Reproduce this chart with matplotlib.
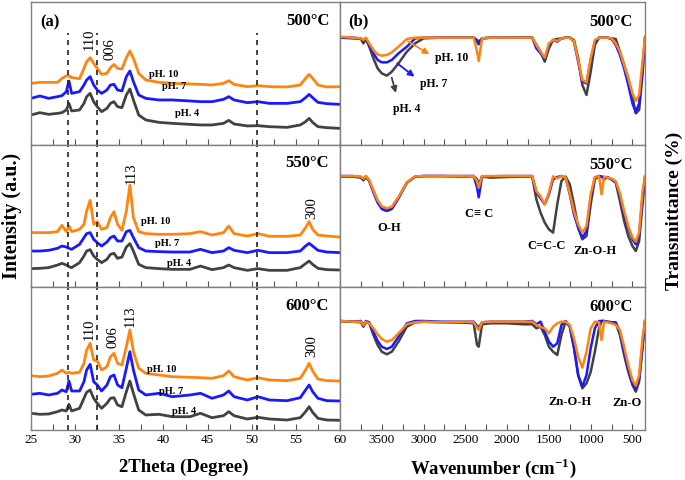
import numpy as np
import matplotlib
matplotlib.use('Agg')
import matplotlib.pyplot as plt
from matplotlib.ticker import MultipleLocator, FixedLocator

plt.rcParams['font.family'] = ['Liberation Serif', 'DejaVu Serif']
plt.rcParams['mathtext.fontset'] = 'custom'
plt.rcParams['mathtext.rm'] = 'Liberation Serif'
plt.rcParams['mathtext.bf'] = 'Liberation Serif:bold'

# ---- XRD data (2theta, intensity a.u.) ----
tt = [25, 26, 27, 28, 28.5, 29.0, 29.3, 29.6, 30.5, 31.0, 31.3, 31.7, 32.1, 32.5, 33.0,
      33.6, 34.0, 34.4, 34.8, 35.3, 35.8, 36.2, 36.6, 37.2, 38, 39.5, 41, 43, 44.2, 45.5,
      46.8, 47.4, 48, 49.5, 50.7, 52, 54, 55.5, 56.1, 56.5, 56.9, 57.5, 58.5, 60]

xrd500_ph10 = [61.3, 62.3, 62.3, 62.3, 66.3, 68.7, 69, 67, 66, 76.3, 83, 87, 81.3, 76.3, 70.3,
               71.3, 77, 80.3, 76.3, 75.7, 87, 93.7, 86.3, 71.3, 64.7, 62.3, 61.3, 60.7, 60.3, 59.7,
               61.3, 64, 60.3, 58, 59, 58, 57.7, 59.7, 66.3, 70.3, 66.3, 59.7, 57.7, 58]
xrd500_ph7 = [46.3, 48.7, 46.3, 48, 49, 53, 63.7, 51.3, 53, 59.7, 64.7, 68, 59.7, 54.7, 51.3,
              54.7, 59.7, 60.3, 54.7, 53.7, 68, 73.7, 63, 49.7, 46.3, 44.7, 44.7, 43.7, 43, 43,
              45.3, 48, 44.7, 42, 43, 41.3, 41.3, 43, 47, 50.3, 47, 42.3, 41, 40.3]
xrd500_ph4 = [29.7, 32, 30.3, 31.3, 32, 34.7, 41.3, 33.7, 34.7, 41.3, 48, 51.3, 43, 38, 33,
              36.3, 41.3, 43, 38, 37, 49.7, 55.7, 44.7, 29.7, 24.7, 22.3, 21.3, 20.3, 19.7, 19.7,
              21.3, 24.3, 20.7, 18.7, 19, 18, 17.3, 19.7, 23, 26.3, 22.3, 18, 17, 16.3]

xrd550_ph10 = [54.7, 54.7, 54.7, 55.7, 62, 55.7, 61.3, 55.7, 58, 63, 76.3, 87, 63, 65.7, 58,
               59.7, 69.7, 75.7, 63, 57, 76.3, 102.3, 69.7, 55.7, 53.7, 53, 53, 53.7, 55.7, 52.3,
               54.7, 61.3, 53.7, 51.3, 53.7, 51, 51, 52.3, 59.7, 65.7, 58, 52.3, 51.3, 50.3]
xrd550_ph7 = [36.3, 36.3, 37, 39, 41.3, 40.3, 39, 38, 43, 49.7, 53.7, 54.7, 48, 44.7, 41.3,
              45.3, 49.7, 51.3, 46.3, 46.3, 55.7, 57, 49.7, 39.7, 36.3, 35.7, 35.3, 35.3, 38, 34.7,
              36.3, 39.7, 37, 34.7, 37, 34.7, 34.7, 36.3, 41.3, 44, 41.3, 37, 35.3, 34.7]
xrd550_ph4 = [18.7, 19, 19.7, 22.3, 24, 22.3, 20.7, 19.7, 24.7, 31.3, 36.3, 37.7, 31.3, 28, 24.7,
              28, 33, 34, 29, 30.3, 40.3, 43.7, 36.3, 23, 19.7, 18.7, 18, 18, 21.3, 17.7,
              19.7, 22.3, 19.7, 17, 18.7, 17, 17, 19.7, 23.7, 26.3, 23, 19, 17.7, 17.3]

xrd600_ph10 = [54.3, 53.3, 54, 56.7, 60, 56.7, 57.7, 56.7, 57.7, 66.7, 80, 86.7, 70, 69, 60,
               63.3, 73.3, 76.7, 66.7, 65, 83.3, 100, 78.3, 61.7, 56.7, 55, 53.3, 52.7, 52.3, 51.7,
               54.3, 59, 53.3, 50, 52.3, 50, 49.3, 51.7, 60, 66.7, 59, 51, 49.3, 49]
xrd600_ph7 = [35.7, 36.7, 35, 36.7, 40, 38.3, 49, 39, 39, 48.3, 60, 65.7, 48.3, 45, 39,
              45, 53.3, 55, 45, 42.3, 61.7, 78.3, 60, 40, 35, 36.7, 33.3, 35, 36.7, 31.7,
              35, 39, 33.3, 30, 33.3, 30, 29.3, 32.3, 40, 45, 38.3, 31.7, 29.3, 29]
xrd600_ph4 = [16.7, 15.7, 16, 18.3, 20, 19, 25.7, 19, 21.7, 31.7, 37.7, 40, 31.7, 26.7, 21.7,
              26.7, 31.7, 32.3, 25, 23.3, 38.3, 49, 36.7, 20, 15, 15.7, 13.3, 13.3, 16.7, 12.3,
              14.3, 18.3, 14.3, 11, 12.7, 11, 10, 12.3, 18.3, 23.3, 17.7, 11.7, 10, 9.7]

# ---- FTIR data (wavenumber, transmittance) ----
wn = [4000, 3850, 3750, 3720, 3690, 3650, 3600, 3550, 3500, 3440, 3380, 3300, 3200, 3100, 3000,
      2800, 2500, 2400, 2360, 2340, 2300, 2200, 2000, 1800, 1700, 1650, 1600, 1550, 1500, 1450,
      1400, 1350, 1300, 1250, 1200, 1150, 1100, 1050, 1000, 950, 900, 870, 840, 800, 750,
      700, 650, 600, 550, 500, 460, 420, 380, 350]

ftir500_ph4 = [107, 106.3, 105.7, 101.3, 105.7, 98, 86.3, 76.3, 71.3, 69, 73, 81.3, 93, 101.3, 106.3,
               107, 107.3, 107, 104.7, 103, 106.3, 107, 107, 107.3, 107, 99.7, 93, 83, 96.3, 104.7,
               105.7, 106.3, 107, 107, 104.7, 86.3, 59.7, 49.7, 73, 99.7, 107, 107, 107, 107, 106.3,
               105.7, 93, 79.7, 66.3, 48, 31.3, 34.7, 69.7, 106.3]
ftir500_ph7 = [107, 107, 106.3, 103.7, 106.3, 99.7, 91.3, 84.7, 82.3, 82.3, 84.7, 91.3, 98, 106.3, 107,
               107, 107, 107, 103, 100.3, 106.3, 107, 107, 107, 107, 96.3, 91.3, 85.7, 99.7, 104.7,
               103, 106.3, 107, 107, 103, 83, 63, 61.3, 84.7, 103, 107, 107, 107, 107, 105.7,
               99.7, 89.7, 76.3, 59.7, 41.3, 32.3, 41.3, 76.3, 106.3]
ftir500_ph10 = [108, 107, 106.3, 104.7, 107, 101.3, 94.7, 90.3, 89, 89.7, 92.3, 98, 105.7, 107, 107,
                107, 107, 107, 93, 83.7, 106.3, 107, 107, 107, 107, 99.7, 93, 87, 101.3, 104.7,
                103.7, 106.3, 107, 107, 103.7, 84.7, 64.7, 62.3, 86.3, 104.7, 107, 107, 107, 107, 106.3,
                101.3, 93, 79.7, 66.3, 51.3, 43.7, 49.7, 83, 108]

ftir550_ph4 = [110.7, 110.7, 109.7, 107, 110.3, 106.3, 96.3, 86.3, 80.3, 78, 79.7, 89.7, 104.7, 110.7, 111.3,
               111.3, 110.7, 111.3, 108, 103, 110.7, 109.7, 110.3, 110.7, 110.7, 88, 74.7, 64.7, 58, 54.7,
               83, 106.3, 110.7, 103, 83, 59.7, 48, 51.3, 83, 108, 111.3, 110.7, 110.3, 109.7, 108,
               104.7, 86.3, 66.3, 51.3, 41.3, 36.3, 46.3, 83, 109.7]
ftir550_ph7 = [111.3, 111.3, 110.3, 108, 111, 106.3, 95, 84.7, 78.3, 76.3, 78.3, 89, 104.7, 110.7, 111.3,
               111.3, 111.3, 111.3, 100, 90, 110.7, 111, 111.3, 111.3, 111.3, 95, 89, 83, 93, 108,
               110.3, 111.3, 109.7, 93, 73, 59.7, 49.7, 56, 89.7, 109.7, 111.3, 110.7, 108, 110.3, 108,
               105, 92, 73, 59.7, 48, 43, 53, 90, 110]
ftir550_ph10 = [111.3, 111.3, 110.7, 108.7, 111.3, 107, 97, 87, 81, 79, 80.7, 90.3, 105, 111, 111.3,
                111.3, 111.3, 111.3, 106, 99.7, 111, 111.3, 111.3, 111.3, 111.3, 96.3, 91, 83, 95, 111,
                109, 111.3, 109.7, 94, 76, 63, 54.7, 61.3, 93, 110.3, 111, 93, 110.7, 109.7, 108.7,
                106, 94, 76.3, 61.3, 50, 45.7, 55, 96, 111]

ftir600_ph4 = [109, 108.3, 107.7, 103.3, 107.7, 106.7, 95, 85, 78.3, 75.7, 78.3, 88.3, 103.3, 107.7, 108.3,
               107.7, 107.3, 106.7, 85, 83.3, 105.7, 106.7, 106.7, 105.7, 105.7, 101.7, 103.3, 95, 83.3, 78.3,
               75, 95, 108.3, 103.3, 81.7, 55, 41.7, 46.7, 58, 78.3, 101.7, 109, 109, 108.3, 107.7,
               106.7, 95, 75, 58.3, 45, 38.3, 48.3, 81.7, 109]
ftir600_ph7 = [109, 108.3, 109, 105, 109, 107.7, 98.3, 89, 83.3, 81, 83.3, 93.3, 106.7, 109, 109,
               108.3, 108.3, 108.3, 104.3, 102.3, 107.7, 108.3, 108.3, 108.3, 109, 105.7, 108.3, 98.3, 88.3, 83.3,
               86.7, 105, 109, 103.3, 83.3, 55, 43.3, 55, 81.7, 101.7, 109, 109, 109, 108.3, 107.7,
               107.7, 98.3, 78.3, 60, 46.7, 41, 51.7, 85, 108.3]
ftir600_ph10 = [109, 108.3, 108.3, 105, 108.3, 106.7, 101.7, 95.7, 91, 88.3, 90, 96.7, 105.7, 107.7, 108.3,
                107.7, 108.3, 107.7, 102.3, 100, 107.7, 108.3, 108.3, 108.3, 108.3, 105, 103, 101.7, 96.7, 103.3,
                106.7, 108.3, 108.3, 105, 91.7, 73.3, 62.3, 78.3, 101.7, 108.3, 107.7, 90, 108.3, 107.7, 106.7,
                105, 100, 83.3, 65, 50, 44.3, 55, 91.7, 109]

temps = ['500°C', '550°C', '600°C']
xrd = [(xrd500_ph4, xrd500_ph7, xrd500_ph10),
       (xrd550_ph4, xrd550_ph7, xrd550_ph10),
       (xrd600_ph4, xrd600_ph7, xrd600_ph10)]
ftir = [(ftir500_ph4, ftir500_ph7, ftir500_ph10),
        (ftir550_ph4, ftir550_ph7, ftir550_ph10),
        (ftir600_ph4, ftir600_ph7, ftir600_ph10)]
ph_names = ['pH. 4', 'pH. 7', 'pH. 10']
colores = ['#424242', '#1a1aff', '#ff8510']

# label positions for the pH tags in XRD panels
ph_pos = [[(41.3, 31), (39.8, 58.5), (38.4, 70)],
          [(40.4, 23.5), (39.0, 44), (37.5, 66)],
          [(41.0, 19), (39.5, 39), (38.1, 60)]]
# Miller indices (x, y, text)
hkl = [[(31.65, 105, '110'), (34.0, 96, '006')],
       [(36.4, 114, '113'), (56.85, 79, '300')],
       [(31.65, 101, '110'), (34.3, 92.5, '006'), (36.25, 113.5, '113'), (56.8, 84, '300')]]
dashes_x = [29.23, 32.44, 50.56]

W, H = 685, 480
fig = plt.figure(figsize=(6.85, 4.8), dpi=100)
top, bot = 2, 430
rowh = (bot - top) / 3
axL, axR = [], []
for i in range(3):
    y0 = 1 - (top + (i + 1) * rowh) / H
    axL.append(fig.add_axes([31 / W, y0, 309 / W, rowh / H]))
    axR.append(fig.add_axes([340 / W, y0, 305 / W, rowh / H]))

for i in range(3):
    a = axL[i]
    for k in range(3):
        a.plot(tt, xrd[i][k], color=colores[k], lw=2.0)
        a.text(ph_pos[i][k][0], ph_pos[i][k][1], ph_names[k], fontsize=7.5,
               fontweight='bold', ha='left', va='center')
    for (hx, hy, ht) in hkl[i]:
        a.text(hx, hy, ht, rotation=90, fontsize=10.5, ha='center', va='center')
    for dx in dashes_x:
        a.axvline(dx, ymax=0.78 if i == 0 else 1, color='#222222', lw=1.2, ls=(0, (3, 3)))
    a.set_xlim(25, 60)
    a.set_ylim(0, rowh)
    a.xaxis.set_major_locator(MultipleLocator(5))
    a.xaxis.set_minor_locator(MultipleLocator(2.5))
    a.text(0.965, 0.87, temps[i], transform=a.transAxes, fontsize=12,
           fontweight='bold', ha='right', va='center')

    b = axR[i]
    for k in range(3):
        b.plot(wn, ftir[i][k], color=colores[k], lw=1.8)
    b.set_xlim(4000, 350)
    b.set_ylim(0, rowh)
    b.xaxis.set_major_locator(FixedLocator([3500, 3000, 2500, 2000, 1500, 1000, 500]))
    b.xaxis.set_minor_locator(MultipleLocator(250))
    b.text(0.96, 0.86, temps[i], transform=b.transAxes, fontsize=12,
           fontweight='bold', ha='right', va='center')

    for a2 in (a, b):
        a2.set_yticks([])
        a2.tick_params(axis='x', which='both', direction='in', length=4, width=0.8,
                       color='#555555', labelsize=9.5, pad=3)
        for s in a2.spines.values():
            s.set_color('#808080')
            s.set_linewidth(1.0)
        if i < 2:
            a2.tick_params(axis='x', labelbottom=False)

axL[0].text(0.03, 0.86, '(a)', transform=axL[0].transAxes, fontsize=12,
            fontweight='bold', ha='left', va='center')
axR[0].text(0.027, 0.865, '(b)', transform=axR[0].transAxes, fontsize=12,
            fontweight='bold', ha='left', va='center')

# arrows + pH tags in FTIR 500
flechas = [((3390, 69.7), (3322, 49)), ((3342, 83), (3082, 66.3)), ((3214, 104.7), (2902, 89))]
ftir_tags = [(3198, 36), (2875, 61), (2660, 86.3)]
for k in range(3):
    axR[0].annotate('', xy=flechas[k][1], xytext=flechas[k][0],
                    arrowprops=dict(arrowstyle='-|>', color=colores[k], lw=1.3,
                                    mutation_scale=9))
    axR[0].text(ftir_tags[k][0], ftir_tags[k][1], ph_names[k], fontsize=8.5,
                fontweight='bold', ha='center', va='center')

# band labels
bandas = [(1, 3413, 59.7, 'O-H'), (1, 2336, 73, 'C≡ C'), (1, 1527, 41.3, 'C=C-C'),
          (1, 948, 36.3, 'Zn-O-H'), (2, 1248, 28.3, 'Zn-O-H'), (2, 562, 26.7, 'Zn-O')]
for (r, bx, by, bt) in bandas:
    axR[r].text(bx, by, bt, fontsize=9, fontweight='bold', ha='center', va='center')

fig.text(12 / W, 1 - 216 / H, 'Intensity (a.u.)', rotation=90, fontsize=14.5,
         fontweight='bold', ha='center', va='center')
fig.text(674 / W, 1 - 211 / H, 'Transmittance (%)', rotation=90, fontsize=14,
         fontweight='bold', ha='center', va='center')
fig.text(184 / W, 1 - 467 / H, '2Theta (Degree)', fontsize=13.5,
         fontweight='bold', ha='center', va='center')
fig.text(493 / W, 1 - 468 / H, r'Wavenumber (cm$^{\mathbf{-1}}$)', fontsize=13.5,
         fontweight='bold', ha='center', va='center')

fig.savefig('out.png', dpi=100)
